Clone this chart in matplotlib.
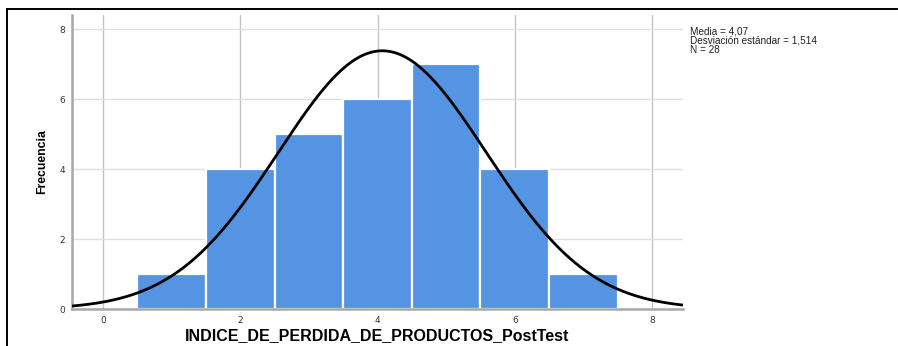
import numpy as np
import matplotlib.pyplot as plt
from matplotlib.lines import Line2D

# Histogram of the post-test index (bin centres and counts)
bin_centers = [1, 2, 3, 4, 5, 6, 7]
counts = [1, 4, 5, 6, 7, 4, 1]
mean = 4.07
std_dev = 1.514
n_obs = 28

x_ticks = [0, 2, 4, 6, 8]
y_ticks = [0, 2, 4, 6, 8]

bar_color = "#5594e3"

fig = plt.figure(figsize=(8.98, 3.46), dpi=100)
ax = fig.add_axes([0.0802, 0.1069, 0.6804, 0.8497])

ax.set_axisbelow(True)
ax.bar(bin_centers, counts, width=1.0, color=bar_color,
       edgecolor="white", linewidth=1.6, zorder=2)

# Normal curve scaled to the counts (bin width = 1)
xs = np.linspace(-0.45, 8.45, 400)
bin_width = 1.0
ys = n_obs * bin_width / (std_dev * np.sqrt(2 * np.pi)) * np.exp(-0.5 * ((xs - mean) / std_dev) ** 2)
ax.plot(xs, ys, color="black", linewidth=2.0, zorder=3, solid_capstyle="butt")

ax.set_xlim(-0.45, 8.45)
ax.set_ylim(0, 8.4)
ax.set_xticks(x_ticks)
ax.set_yticks(y_ticks)
ax.tick_params(length=0, labelsize=6.5, labelcolor="#333333", pad=5)

ax.xaxis.grid(True, color="#c4c4c4", linewidth=1.0)
ax.yaxis.grid(True, color="#e0e0e0", linewidth=1.0)

for side in ("top", "right"):
    ax.spines[side].set_visible(False)
for side in ("left", "bottom"):
    ax.spines[side].set_color("#a8a8a8")
    ax.spines[side].set_linewidth(1.8)

ax.set_xlabel("INDICE_DE_PERDIDA_DE_PRODUCTOS_PostTest", fontsize=11.5,
              fontweight="bold", family="Liberation Sans", labelpad=2)
ax.set_ylabel("Frecuencia", fontsize=8.8, fontweight="bold",
              family="Liberation Sans", labelpad=8)

stats_text = "Media = 4,07\nDesviación estándar = 1,514\nN = 28"
fig.text(0.768, 0.922, stats_text, fontsize=7.2, family="Liberation Sans",
         va="top", ha="left", linespacing=0.86, color="#222222")

# Frame lines along the top and left edges of the figure
fig.add_artist(Line2D([0.0078, 0.999], [0.974, 0.974], transform=fig.transFigure,
                      color="black", linewidth=1.4))
fig.add_artist(Line2D([0.0078, 0.0078], [0.0, 0.974], transform=fig.transFigure,
                      color="black", linewidth=1.4))

fig.savefig("out.png", dpi=100)
